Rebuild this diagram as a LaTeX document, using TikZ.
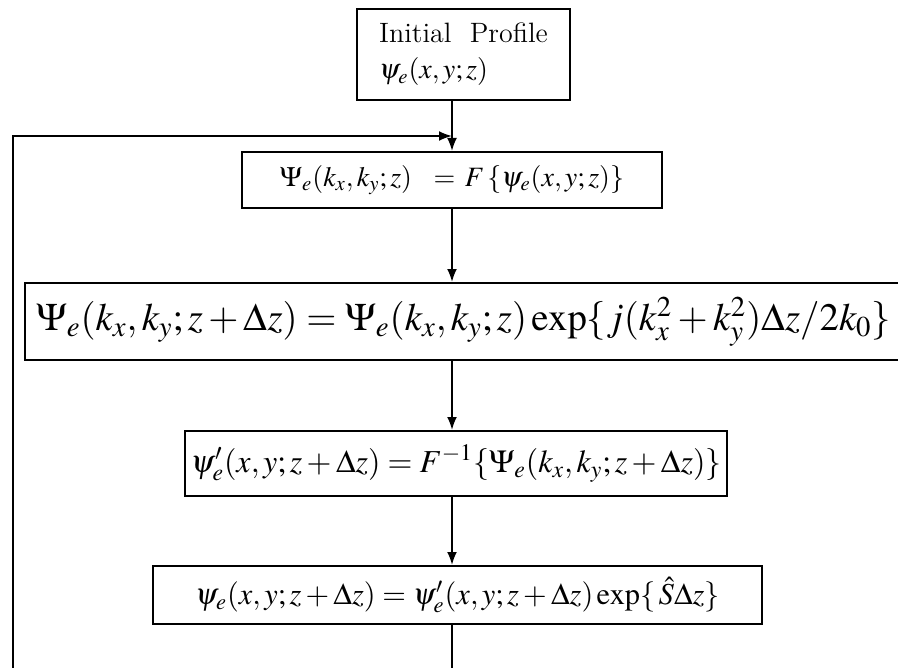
\documentclass[tikz,border=0pt]{standalone}
\usepackage{mathptmx}
\usetikzlibrary{positioning,arrows.meta}

\begin{document}
\begin{tikzpicture}[x=0.5pt, y=-0.5pt, line width=1pt,
  stage/.style={draw, line width=1pt, inner sep=2pt, align=center},
  flow/.style={-{Latex[length=6.5pt,width=5pt]}}]
\useasboundingbox (0,0) rectangle (898,668);
\node[stage, align=left, minimum width=106.5pt, minimum height=45.5pt, font=\fontsize{14}{18}\selectfont] (init) at (463.5,54.5) {Initial\ \ Profile\\$\psi_e(x,y;z)$};
\node[stage, minimum width=210pt, minimum height=28pt, font=\fontsize{14}{17}\selectfont] (fft) at (452,180) {$\Psi_e(k_x,k_y;z)\ \;=\,F\,\{\psi_e(x,y;z)\}$};
\node[stage, minimum width=438.5pt, minimum height=38.5pt, font=\fontsize{19.4}{23}\selectfont] (prop) at (463.5,321.5) {$\Psi_e(k_x,k_y;z+\Delta z)=\Psi_e(k_x,k_y;z)\exp\{j(k_x^2+k_y^2)\Delta z/2k_0\}$};
\node[stage, minimum width=271pt, minimum height=32.5pt, font=\fontsize{16}{19}\selectfont] (ifft) at (456,463.5) {$\psi_e^{\prime}(x,y;z+\Delta z)=F^{-1}\{\Psi_e(k_x,k_y;z+\Delta z)\}$};
\node[stage, minimum width=304.5pt, minimum height=29pt, font=\fontsize{15.2}{18}\selectfont] (nonlin) at (457.5,595) {$\psi_e(x,y;z+\Delta z)=\psi_e^{\prime}(x,y;z+\Delta z)\exp\{\,\hat{S}\Delta z\}$};

\coordinate (join) at (452,136);
\coordinate (loopend) at (13,668);
\coordinate (exit) at (452,668);

\draw[flow] (init.south -| fft.north) -- (fft.north);
\draw[flow] (loopend) |- (join);
\draw[flow] (fft.south) -- (fft.south |- prop.north);
\draw[flow] (prop.south -| fft.south) -- (ifft.north -| fft.south);
\draw[flow] (ifft.south -| fft.south) -- (nonlin.north -| fft.south);
\draw (nonlin.south -| fft.south) -- (exit);
\end{tikzpicture}
\end{document}
